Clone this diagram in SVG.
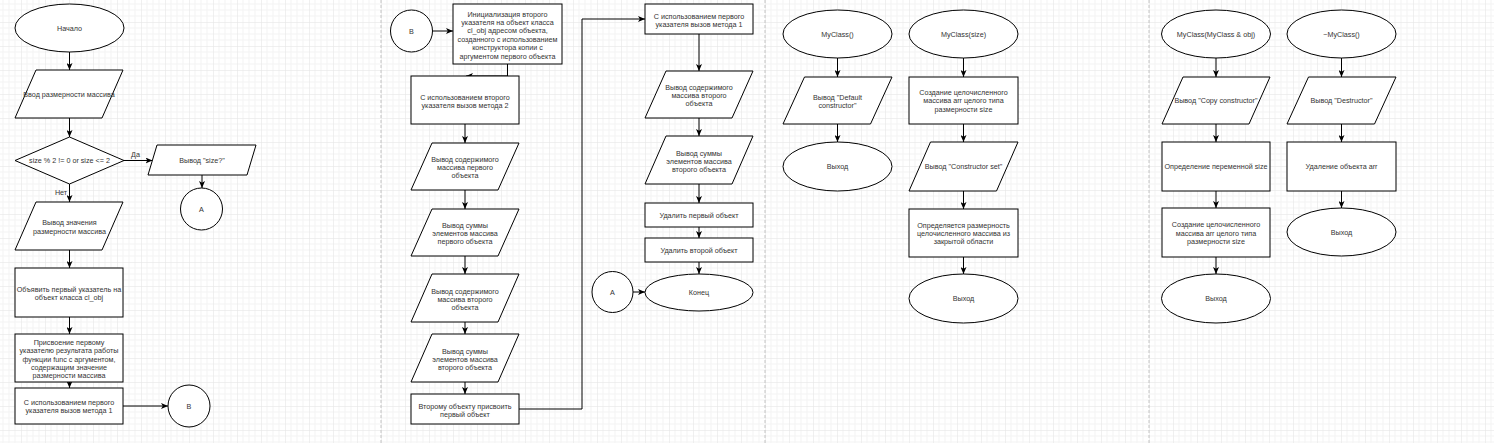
<svg xmlns="http://www.w3.org/2000/svg" width="1494" height="443" viewBox="0 0 1494 443">
<style>
.s{fill:#fff;stroke:#000;stroke-width:1}
.t{font-family:"Liberation Sans",Arial,sans-serif;font-size:7.2px;fill:#333;text-anchor:middle;dominant-baseline:central}
.c{fill:none;stroke:#000;stroke-width:1}
.sep{stroke:#c4c4c4;stroke-width:1;stroke-dasharray:3 2}
</style>
<defs>
<pattern id="grid" patternUnits="userSpaceOnUse" x="21" y="22" width="24" height="24">
<path d="M6 0V24M12 0V24M18 0V24M0 6H24M0 12H24M0 18H24" stroke="#f3f3f3" stroke-width="1" fill="none"/>
<path d="M0 0V24M0 0H24" stroke="#e2e2e2" stroke-width="1" fill="none"/>
</pattern>
<marker id="a" markerUnits="userSpaceOnUse" markerWidth="7" markerHeight="6" refX="7" refY="3" orient="auto">
<path d="M0 0L7 3L0 6L1.8 3Z" fill="#000"/>
</marker>
</defs>
<rect width="1494" height="443" fill="#fff"/>
<rect width="1494" height="443" fill="url(#grid)"/>
<g id="separators">
<line class="sep" x1="381" y1="0" x2="381" y2="443"/>
<line class="sep" x1="765" y1="0" x2="765" y2="443"/>
<line class="sep" x1="1149" y1="0" x2="1149" y2="443"/>
</g>
<g id="connectors">
<line class="c" x1="69.5" y1="52" x2="69.5" y2="70" marker-end="url(#a)"/>
<line class="c" x1="69.5" y1="118" x2="69.5" y2="137" marker-end="url(#a)"/>
<line class="c" x1="124" y1="160.5" x2="152.5" y2="160.5" marker-end="url(#a)"/>
<line class="c" x1="202" y1="175" x2="202" y2="188" marker-end="url(#a)"/>
<line class="c" x1="69.5" y1="184" x2="69.5" y2="202" marker-end="url(#a)"/>
<line class="c" x1="69.5" y1="250" x2="69.5" y2="268" marker-end="url(#a)"/>
<line class="c" x1="69.5" y1="317" x2="69.5" y2="334" marker-end="url(#a)"/>
<line class="c" x1="69.5" y1="382" x2="69.5" y2="388" marker-end="url(#a)"/>
<line class="c" x1="123" y1="406" x2="168" y2="406" marker-end="url(#a)"/>
<text class="t" x="135.5" y="154">Да</text>
<text class="t" x="61" y="192">Нет</text>
<line class="c" x1="432.5" y1="31" x2="453" y2="31" marker-end="url(#a)"/>
<path class="c" d="M507.5 64V76H466" marker-end="url(#a)"/>
<line class="c" x1="465" y1="124" x2="465" y2="143" marker-end="url(#a)"/>
<line class="c" x1="465" y1="190" x2="465" y2="209" marker-end="url(#a)"/>
<line class="c" x1="465" y1="256" x2="465" y2="274" marker-end="url(#a)"/>
<line class="c" x1="465" y1="322" x2="465" y2="334" marker-end="url(#a)"/>
<line class="c" x1="465" y1="382" x2="465" y2="394" marker-end="url(#a)"/>
<path class="c" d="M519 409H582V19H645" marker-end="url(#a)"/>
<line class="c" x1="699" y1="34" x2="699" y2="71" marker-end="url(#a)"/>
<line class="c" x1="699" y1="118" x2="699" y2="136" marker-end="url(#a)"/>
<line class="c" x1="699" y1="184" x2="699" y2="203" marker-end="url(#a)"/>
<line class="c" x1="699" y1="227" x2="699" y2="238" marker-end="url(#a)"/>
<line class="c" x1="699" y1="262" x2="699" y2="274" marker-end="url(#a)"/>
<line class="c" x1="633" y1="292" x2="645" y2="292" marker-end="url(#a)"/>
<line class="c" x1="837.5" y1="58" x2="837.5" y2="77" marker-end="url(#a)"/>
<line class="c" x1="837.5" y1="124" x2="837.5" y2="142" marker-end="url(#a)"/>
<line class="c" x1="963.5" y1="58" x2="963.5" y2="77" marker-end="url(#a)"/>
<line class="c" x1="963.5" y1="124" x2="963.5" y2="142" marker-end="url(#a)"/>
<line class="c" x1="963.5" y1="191" x2="963.5" y2="209" marker-end="url(#a)"/>
<line class="c" x1="963.5" y1="257" x2="963.5" y2="274" marker-end="url(#a)"/>
<line class="c" x1="1216" y1="58" x2="1216" y2="77" marker-end="url(#a)"/>
<line class="c" x1="1216" y1="124" x2="1216" y2="142" marker-end="url(#a)"/>
<line class="c" x1="1216" y1="191" x2="1216" y2="208" marker-end="url(#a)"/>
<line class="c" x1="1216" y1="257" x2="1216" y2="274" marker-end="url(#a)"/>
<line class="c" x1="1341.5" y1="58" x2="1341.5" y2="77" marker-end="url(#a)"/>
<line class="c" x1="1341.5" y1="124" x2="1341.5" y2="142" marker-end="url(#a)"/>
<line class="c" x1="1341.5" y1="191" x2="1341.5" y2="208" marker-end="url(#a)"/>
</g>
<g id="n_start"><ellipse class="s" cx="69.5" cy="28" rx="54.5" ry="24"/><text class="t" x="69.5" y="28">Начало</text></g>
<g id="n_input"><polygon class="s" points="36,70 123,70 102,118 15,118"/><text class="t" x="69" y="94">Ввод размерности массива</text></g>
<g id="n_cond"><polygon class="s" points="69.5,137 124,160.5 69.5,184 15,160.5"/><text class="t" x="69.5" y="160.5">size % 2 != 0 or size &lt;= 2</text></g>
<g id="n_err"><polygon class="s" points="157,145 256,145 247,175 148,175"/><text class="t" x="202" y="160">Вывод "size?"</text></g>
<g id="n_A1"><circle class="s" cx="201.5" cy="209" r="21"/><text class="t" x="201.5" y="209">A</text></g>
<g id="n_out"><polygon class="s" points="36,202 123,202 102,250 15,250"/><text class="t"><tspan x="69.5" y="222">Вывод значения</tspan><tspan x="69.5" y="230.5">размерности массива</tspan></text></g>
<g id="n_decl"><rect class="s" x="15" y="268" width="108" height="49"/><text class="t"><tspan x="69" y="288.5">Объявить первый указатель на</tspan><tspan x="69" y="297">объект класса cl_obj</tspan></text></g>
<g id="n_assign"><rect class="s" x="15" y="334" width="108" height="48"/><text class="t"><tspan x="69" y="341.8">Присвоение первому</tspan><tspan x="69" y="350.2">указателю результата работы</tspan><tspan x="69" y="358.6">функции func с аргументом,</tspan><tspan x="69" y="367">содержащим значение</tspan><tspan x="69" y="375.4">размерности массива</tspan></text></g>
<g id="n_call1"><rect class="s" x="15" y="388" width="108" height="36"/><text class="t"><tspan x="69" y="402">С использованием первого</tspan><tspan x="69" y="410.4">указателя вызов метода 1</tspan></text></g>
<g id="n_B1"><circle class="s" cx="189" cy="406" r="21"/><text class="t" x="189" y="406">B</text></g>
<g id="n_B2"><circle class="s" cx="411.5" cy="31" r="21"/><text class="t" x="411.5" y="31">B</text></g>
<g id="n_init"><rect class="s" x="453" y="4" width="109" height="60"/><text class="t"><tspan x="507.5" y="13.5">Инициализация второго</tspan><tspan x="507.5" y="21.9">указателя на объект класса</tspan><tspan x="507.5" y="30.3">cl_obj адресом объекта,</tspan><tspan x="507.5" y="38.7">созданного с использованием</tspan><tspan x="507.5" y="47.1">конструктора копии с</tspan><tspan x="507.5" y="55.5">аргументом первого объекта</tspan></text></g>
<g id="n_call2"><rect class="s" x="411" y="76" width="108" height="48"/><text class="t"><tspan x="465" y="96.8">С использованием второго</tspan><tspan x="465" y="105.2">указателя вызов метода 2</tspan></text></g>
<g id="n_p1"><polygon class="s" points="432,143 519,143 498,190 411,190"/><text class="t"><tspan x="465" y="158.6">Вывод содержимого</tspan><tspan x="465" y="167">массива первого</tspan><tspan x="465" y="175.4">объекта</tspan></text></g>
<g id="n_p2"><polygon class="s" points="432,209 519,209 498,256 411,256"/><text class="t"><tspan x="465" y="224.6">Вывод суммы</tspan><tspan x="465" y="233">элементов массива</tspan><tspan x="465" y="241.4">первого объекта</tspan></text></g>
<g id="n_p3"><polygon class="s" points="432,274 519,274 498,322 411,322"/><text class="t"><tspan x="465" y="290.6">Вывод содержимого</tspan><tspan x="465" y="299">массива второго</tspan><tspan x="465" y="307.4">объекта</tspan></text></g>
<g id="n_p4"><polygon class="s" points="432,334 519,334 498,382 411,382"/><text class="t"><tspan x="465" y="350.6">Вывод суммы</tspan><tspan x="465" y="359">элементов массива</tspan><tspan x="465" y="367.4">второго объекта</tspan></text></g>
<g id="n_assign2"><rect class="s" x="411" y="394" width="108" height="30"/><text class="t"><tspan x="465" y="405.8">Второму объекту присвоить</tspan><tspan x="465" y="414.2">первый объект</tspan></text></g>
<g id="n_call1b"><rect class="s" x="645" y="4" width="108" height="30"/><text class="t"><tspan x="699" y="15.8">С использованием первого</tspan><tspan x="699" y="24.2">указателя вызов метода 1</tspan></text></g>
<g id="n_p5"><polygon class="s" points="666,71 753,71 732,118 645,118"/><text class="t"><tspan x="699" y="86.6">Вывод содержимого</tspan><tspan x="699" y="95">массива второго</tspan><tspan x="699" y="103.4">объекта</tspan></text></g>
<g id="n_p6"><polygon class="s" points="666,136 753,136 732,184 645,184"/><text class="t"><tspan x="699" y="152.6">Вывод суммы</tspan><tspan x="699" y="161">элементов массива</tspan><tspan x="699" y="169.4">второго объекта</tspan></text></g>
<g id="n_del1"><rect class="s" x="645" y="203" width="108" height="24"/><text class="t" x="699" y="215">Удалить первый объект</text></g>
<g id="n_del2"><rect class="s" x="645" y="238" width="108" height="24"/><text class="t" x="699" y="250">Удалить второй объект</text></g>
<g id="n_end"><ellipse class="s" cx="699" cy="292.5" rx="54" ry="18.5"/><text class="t" x="699" y="292.5">Конец</text></g>
<g id="n_A2"><circle class="s" cx="612.5" cy="292" r="20.5"/><text class="t" x="612.5" y="292">A</text></g>
<g id="n_mc0"><ellipse class="s" cx="837.5" cy="34" rx="54.5" ry="24"/><text class="t" x="837.5" y="34">MyClass()</text></g>
<g id="n_def"><polygon class="s" points="804.5,77 892,77 870.5,124 783,124"/><text class="t"><tspan x="837.5" y="96.8">Вывод "Default</tspan><tspan x="837.5" y="105.2">constructor"</tspan></text></g>
<g id="n_exit1"><ellipse class="s" cx="837.5" cy="166.5" rx="54.5" ry="24.5"/><text class="t" x="837.5" y="166.5">Выход</text></g>
<g id="n_mcs"><ellipse class="s" cx="963.5" cy="34" rx="54.5" ry="24"/><text class="t" x="963.5" y="34">MyClass(size)</text></g>
<g id="n_create1"><rect class="s" x="909" y="77" width="109" height="47"/><text class="t"><tspan x="963.5" y="92">Создание целочисленного</tspan><tspan x="963.5" y="100.4">массива arr целого типа</tspan><tspan x="963.5" y="108.8">размерности size</tspan></text></g>
<g id="n_cset"><polygon class="s" points="930.5,142 1018,142 996.5,191 909,191"/><text class="t" x="963.5" y="166.5">Вывод "Constructor set"</text></g>
<g id="n_size"><rect class="s" x="909" y="209" width="109" height="48"/><text class="t"><tspan x="963.5" y="224.6">Определяется размерность</tspan><tspan x="963.5" y="233">целочисленного массива из</tspan><tspan x="963.5" y="241.4">закрытой области</tspan></text></g>
<g id="n_exit2"><ellipse class="s" cx="963.5" cy="298.5" rx="54.5" ry="24.5"/><text class="t" x="963.5" y="298.5">Выход</text></g>
<g id="n_mcc"><ellipse class="s" cx="1216" cy="34" rx="54.5" ry="24"/><text class="t" x="1216" y="34">MyClass(MyClass &amp; obj)</text></g>
<g id="n_copy"><polygon class="s" points="1183,77 1270,77 1249,124 1162,124"/><text class="t" x="1216" y="100.5">Вывод "Copy constructor"</text></g>
<g id="n_defsize"><rect class="s" x="1162" y="142" width="108" height="49"/><text class="t" x="1216" y="166.5">Определение переменной size</text></g>
<g id="n_create2"><rect class="s" x="1162" y="208" width="108" height="49"/><text class="t"><tspan x="1216" y="224.1">Создание целочисленного</tspan><tspan x="1216" y="232.5">массива arr целого типа</tspan><tspan x="1216" y="240.9">размерности size</tspan></text></g>
<g id="n_exit3"><ellipse class="s" cx="1216" cy="298.5" rx="54.5" ry="24.5"/><text class="t" x="1216" y="298.5">Выход</text></g>
<g id="n_dtor"><ellipse class="s" cx="1341.5" cy="34" rx="54.5" ry="24"/><text class="t" x="1341.5" y="34">~MyClass()</text></g>
<g id="n_dest"><polygon class="s" points="1308.5,77 1396,77 1374.5,124 1287,124"/><text class="t" x="1341.5" y="100.5">Вывод "Destructor"</text></g>
<g id="n_delarr"><rect class="s" x="1287" y="142" width="109" height="49"/><text class="t" x="1341.5" y="166.5">Удаление объекта arr</text></g>
<g id="n_exit4"><ellipse class="s" cx="1341.5" cy="232" rx="54.5" ry="24"/><text class="t" x="1341.5" y="232">Выход</text></g>
</svg>
